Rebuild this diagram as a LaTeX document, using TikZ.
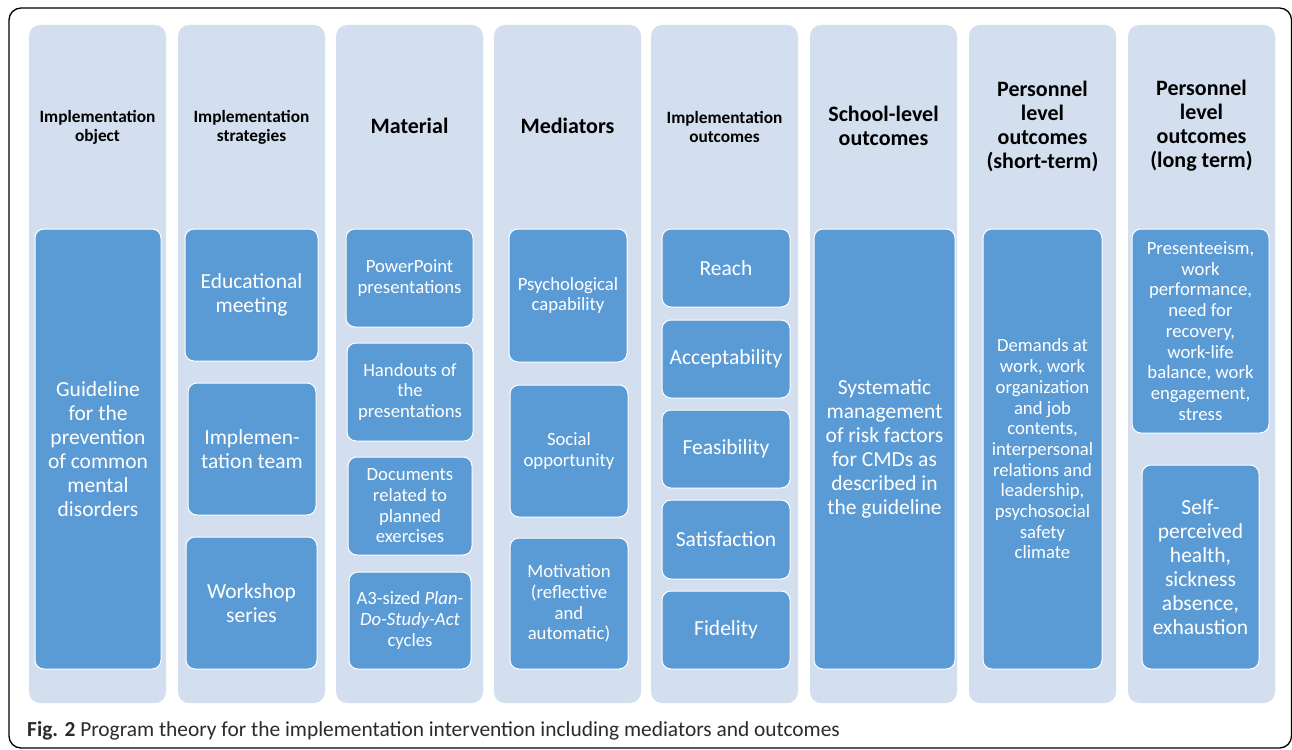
\documentclass[tikz,border=0pt]{standalone}
\usepackage{fontspec}
\setmainfont{Carlito}
\definecolor{colfill}{HTML}{D3DEEF}
\definecolor{boxfill}{HTML}{5B9BD5}
\definecolor{captext}{HTML}{2B2B2B}
\tikzset{
  lane/.style={fill=colfill, draw=none, rounded corners=11pt, inner sep=0pt},
  head/.style={font=\bfseries\fontsize{17.3}{19}\selectfont, align=center, text=black, inner sep=0pt},
  headbig/.style={font=\bfseries\fontsize{22}{24}\selectfont, align=center, text=black, inner sep=0pt},
  ibox/.style={fill=boxfill, draw=white, line width=1pt, rounded corners=9pt, text=white, align=center, inner sep=0pt},
  txtbig/.style={font=\fontsize{21.5}{24}\selectfont},
  txtsmall/.style={font=\fontsize{18.7}{20.7}\selectfont},
}
\begin{document}
\begin{tikzpicture}[x=1pt,y=-1pt]
\useasboundingbox (0,0) rectangle (1292,749);
\fill[white] (0,0) rectangle (1292,749);
% outer frame
\draw[line width=1.3pt, rounded corners=12pt] (9,8) rectangle (1291.5,748);

% lanes
\node[lane, minimum width=137pt, minimum height=678pt] (c1) at (97.5,364) {};
\node[lane, minimum width=147pt, minimum height=678pt] (c2) at (251.5,364) {};
\node[lane, minimum width=147pt, minimum height=678pt] (c3) at (409.5,364) {};
\node[lane, minimum width=147pt, minimum height=678pt] (c4) at (567.5,364) {};
\node[lane, minimum width=147pt, minimum height=678pt] (c5) at (724.5,364) {};
\node[lane, minimum width=147pt, minimum height=678pt] (c6) at (883.5,364) {};
\node[lane, minimum width=147pt, minimum height=678pt] (c7) at (1042.5,364) {};
\node[lane, minimum width=147pt, minimum height=678pt] (c8) at (1201.5,364) {};

% lane headings
\node[head] (h1) at (97.5,127) {Implementation\\object};
\node[head] (h2) at (251.5,127) {Implementation\\strategies};
\node[headbig] (h3) at (409.5,126) {Material};
\node[headbig] (h4) at (567.5,126) {Mediators};
\node[head] (h5) at (724.5,127) {Implementation\\outcomes};
\node[headbig] (h6) at (883.5,126) {School-level\\outcomes};
\node[headbig] (h7) at (1042.5,126) {Personnel\\level\\outcomes\\(short-term)};
\node[headbig] (h8) at (1201.5,126) {Personnel\\level\\outcomes\\(long term)};

% implementation object
\node[ibox, txtbig, minimum width=126pt, minimum height=440pt] (guide) at (98,449)
  {Guideline\\for the\\prevention\\of common\\mental\\disorders};

% strategies
\node[ibox, txtbig, minimum width=133pt, minimum height=132pt] (edu) at (251.5,295) {Educational\\meeting};
\node[ibox, txtbig, minimum width=128pt, minimum height=132pt] (team) at (252,449) {Implemen-\\tation team};
\node[ibox, txtbig, minimum width=131pt, minimum height=132pt] (work) at (251.5,603) {Workshop\\series};

% material
\node[ibox, txtsmall, minimum width=127pt, minimum height=98pt] (ppt) at (409.5,278) {PowerPoint\\presentations};
\node[ibox, txtsmall, minimum width=126pt, minimum height=98pt] (hand) at (410,392) {Handouts of\\the\\presentations};
\node[ibox, txtsmall, minimum width=124pt, minimum height=98pt] (docs) at (410,506) {Documents\\related to\\planned\\exercises};
\node[ibox, txtsmall, minimum width=122pt, minimum height=97pt] (pdsa) at (410,620.5) {A3-sized \textit{Plan-}\\\textit{Do-Study-Act}\\cycles};

% mediators
\node[ibox, txtsmall, minimum width=118pt, minimum height=133pt] (psy) at (568,295.5) {Psychological\\capability};
\node[ibox, txtsmall, minimum width=118pt, minimum height=132pt] (soc) at (569,451) {Social\\opportunity};
\node[ibox, txtsmall, minimum width=118pt, minimum height=131pt] (mot) at (569,603.5) {Motivation\\(reflective\\and\\automatic)};

% implementation outcomes
\node[ibox, txtbig, minimum width=128pt, minimum height=78pt] (reach) at (726,268) {Reach};
\node[ibox, txtbig, minimum width=128pt, minimum height=78pt] (accept) at (726,359) {Acceptability};
\node[ibox, txtbig, minimum width=128pt, minimum height=78pt] (feas) at (726,449) {Feasibility};
\node[ibox, txtbig, minimum width=128pt, minimum height=79pt] (satis) at (726,539.5) {Satisfaction};
\node[ibox, txtbig, minimum width=128pt, minimum height=78pt] (fidel) at (726,630) {Fidelity};

% school-level outcomes
\node[ibox, txtbig, minimum width=141pt, minimum height=440pt] (sys) at (884.5,449)
  {Systematic\\management\\of risk factors\\for CMDs as\\described in\\the guideline};

% personnel outcomes, short term
\node[ibox, txtsmall, minimum width=119pt, minimum height=440pt] (dem) at (1042.5,449)
  {Demands at\\work, work\\organization\\and job\\contents,\\interpersonal\\relations and\\leadership,\\psychosocial\\safety\\climate};

% personnel outcomes, long term
\node[ibox, txtsmall, minimum width=137pt, minimum height=204pt] (pres) at (1200.5,331)
  {Presenteeism,\\work\\performance,\\need for\\recovery,\\work-life\\balance, work\\engagement,\\stress};
\node[ibox, txtbig, minimum width=117pt, minimum height=204pt] (selfh) at (1200.5,567)
  {Self-\\perceived\\health,\\sickness\\absence,\\exhaustion};

% caption
\node[anchor=base west, inner sep=0pt, text=captext, font=\fontsize{21.4}{24}\selectfont] (cap) at (27,736)
  {\textbf{Fig. 2} Program theory for the implementation intervention including mediators and outcomes};
\end{tikzpicture}
\end{document}
